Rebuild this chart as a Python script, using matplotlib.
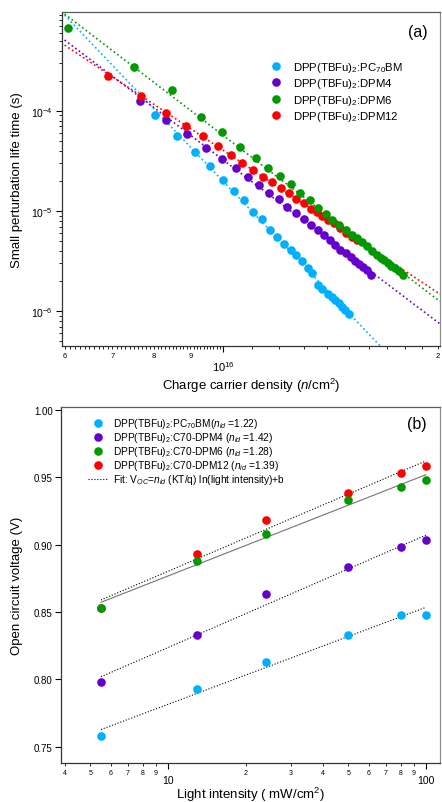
import numpy as np
import matplotlib
matplotlib.use("Agg")
import matplotlib.pyplot as plt
from matplotlib.lines import Line2D
from matplotlib.ticker import FixedLocator, FuncFormatter, NullFormatter

plt.rcParams['font.family'] = ['Liberation Sans', 'DejaVu Sans']
plt.rcParams['mathtext.fontset'] = 'custom'
plt.rcParams['mathtext.rm'] = 'Liberation Sans'
plt.rcParams['mathtext.it'] = 'Liberation Sans:italic'
plt.rcParams['mathtext.bf'] = 'Liberation Sans:bold'

C_BLUE = '#00b0ff'
C_PURPLE = '#6600cc'
C_GREEN = '#009a00'
C_RED = '#ff0000'

# ---- panel (a): lifetime vs charge density (n in 1e16 cm^-2, tau in s)
n_pc70 = [0.803, 0.863, 0.913, 0.958, 1.000, 1.035, 1.071, 1.103, 1.134, 1.164,
          1.190, 1.216, 1.244, 1.266, 1.291, 1.315, 1.335, 1.361, 1.379, 1.402,
          1.420, 1.437, 1.453, 1.468, 1.484, 1.503]
tau_pc70 = [9.06e-5, 5.63e-5, 3.92e-5, 2.83e-5, 2.02e-5, 1.59e-5, 1.28e-5, 9.89e-6,
            8.36e-6, 6.54e-6, 5.53e-6, 4.71e-6, 4.05e-6, 3.61e-6, 3.16e-6, 2.70e-6,
            2.42e-6, 1.81e-6, 1.67e-6, 1.50e-6, 1.39e-6, 1.29e-6, 1.20e-6, 1.11e-6,
            1.03e-6, 9.42e-7]

n_dpm4 = [0.766, 0.833, 0.892, 0.948, 0.998, 1.043, 1.085, 1.124, 1.162, 1.198,
          1.231, 1.265, 1.298, 1.329, 1.358, 1.387, 1.413, 1.437, 1.461, 1.487,
          1.510, 1.532, 1.552, 1.571, 1.590, 1.612]
tau_dpm4 = [1.25e-4, 8.08e-5, 5.89e-5, 4.30e-5, 3.34e-5, 2.69e-5, 2.18e-5, 1.83e-5,
            1.53e-5, 1.31e-5, 1.10e-5, 9.55e-6, 8.30e-6, 7.33e-6, 6.49e-6, 5.72e-6,
            5.10e-6, 4.62e-6, 4.13e-6, 3.77e-6, 3.44e-6, 3.16e-6, 2.95e-6, 2.75e-6,
            2.57e-6, 2.29e-6]

n_dpm12 = [0.691, 0.768, 0.833, 0.889, 0.937, 0.983, 1.026, 1.064, 1.102, 1.139,
           1.172, 1.205, 1.237, 1.266, 1.298, 1.327, 1.353, 1.379, 1.405, 1.431,
           1.458, 1.488, 1.519, 1.541]
tau_dpm12 = [2.25e-4, 1.40e-4, 9.62e-5, 7.13e-5, 5.57e-5, 4.44e-5, 3.61e-5, 3.04e-5,
             2.58e-5, 2.21e-5, 1.95e-5, 1.70e-5, 1.50e-5, 1.33e-5, 1.19e-5, 1.06e-5,
             9.68e-6, 8.83e-6, 8.22e-6, 7.54e-6, 6.80e-6, 6.06e-6, 5.53e-6, 5.16e-6]

n_dpm6 = [0.607, 0.751, 0.849, 0.932, 0.998, 1.056, 1.111, 1.156, 1.203, 1.245,
          1.283, 1.324, 1.357, 1.393, 1.422, 1.455, 1.487, 1.517, 1.542, 1.569,
          1.594, 1.620, 1.642, 1.663, 1.682, 1.702, 1.723, 1.743, 1.766, 1.791]
tau_dpm6 = [6.74e-4, 2.73e-4, 1.61e-4, 8.65e-5, 6.13e-5, 4.34e-5, 3.37e-5, 2.72e-5,
            2.23e-5, 1.88e-5, 1.50e-5, 1.30e-5, 1.08e-5, 9.44e-6, 8.22e-6, 7.33e-6,
            6.54e-6, 5.83e-6, 5.40e-6, 4.90e-6, 4.47e-6, 3.98e-6, 3.68e-6, 3.41e-6,
            3.21e-6, 3.04e-6, 2.86e-6, 2.69e-6, 2.51e-6, 2.32e-6]

labels_a = ['DPP(TBFu)$_2$:PC$_{70}$BM', 'DPP(TBFu)$_2$:DPM4',
            'DPP(TBFu)$_2$:DPM6', 'DPP(TBFu)$_2$:DPM12']

# ---- panel (b): Voc vs light intensity
intensity = [5.5, 13, 24, 50, 80, 100]
voc_pc70 = [0.758, 0.793, 0.813, 0.833, 0.848, 0.848]
voc_dpm4 = [0.798, 0.833, 0.863, 0.883, 0.898, 0.903]
voc_dpm6 = [0.853, 0.888, 0.908, 0.933, 0.943, 0.948]
voc_dpm12 = [0.853, 0.893, 0.918, 0.938, 0.953, 0.958]
labels_b = ['DPP(TBFu)$_2$:PC$_{70}$BM($n_{id}$ =1.22)',
            'DPP(TBFu)$_2$:C70-DPM4 ($n_{id}$ =1.42)',
            'DPP(TBFu)$_2$:C70-DPM6 ($n_{id}$ =1.28)',
            'DPP(TBFu)$_2$:C70-DPM12 ($n_{id}$ =1.39)']
fit_label = 'Fit: V$_{OC}$=$n_{id}$ (KT/q) ln(light intensity)+b'

fig = plt.figure(figsize=(4.42, 8.03), dpi=100)
ax1 = fig.add_axes([0.1403, 0.5679, 0.8552, 0.4159])
ax2 = fig.add_axes([0.138, 0.0486, 0.8575, 0.4433])

ms = 6.2

# panel (a)
series_a = [(n_pc70, tau_pc70, C_BLUE), (n_dpm4, tau_dpm4, C_PURPLE),
            (n_dpm6, tau_dpm6, C_GREEN), (n_dpm12, tau_dpm12, C_RED)]
n_line = np.array([0.6, 2.05])
for n, tau, c in series_a:
    ln = np.log10(np.array(n))
    lt = np.log10(np.array(tau))
    k, b = np.polyfit(ln, lt, 1)
    ax1.plot(n_line * 1e16, 10 ** (k * np.log10(n_line) + b), ':', color=c, lw=1.2, zorder=2)
for n, tau, c in [series_a[0], series_a[1], series_a[3], series_a[2]]:
    ax1.plot(np.array(n) * 1e16, tau, 'o', color=c, ms=ms, mec='none', zorder=3)

ax1.set_xscale('log')
ax1.set_yscale('log')
ax1.set_xlim(5.95e15, 2.015e16)
ax1.set_ylim(4.5e-7, 9.7e-4)

ax1.xaxis.set_major_locator(FixedLocator([1e16]))
ax1.xaxis.set_major_formatter(FuncFormatter(lambda v, p: '$10^{16}$'))
minor_x = list(np.arange(6.0, 10.0, 0.1) * 1e15) + list(np.arange(11, 21, 1) * 1e15)
ax1.xaxis.set_minor_locator(FixedLocator(minor_x))
lab_a = {6: '6', 7: '7', 8: '8', 9: '9', 20: '2'}
ax1.xaxis.set_minor_formatter(FuncFormatter(
    lambda v, p: lab_a.get(int(round(v / 1e15)), '') if abs(v / 1e15 - round(v / 1e15)) < 0.01 else ''))
ax1.tick_params(axis='x', which='major', direction='out', length=4.5, width=0.8,
                labelsize=8, pad=5)
ax1.tick_params(axis='x', which='minor', direction='out', length=2, width=0.6,
                labelsize=5.5, pad=2)

ax1.yaxis.set_major_locator(FixedLocator([1e-6, 1e-5, 1e-4]))
ax1.yaxis.set_major_formatter(FuncFormatter(lambda v, p: '$10^{%d}$' % int(round(np.log10(v)))))
minor_y = [m * 10.0 ** e for e in (-7, -6, -5, -4) for m in range(2, 10)]
ax1.yaxis.set_minor_locator(FixedLocator(minor_y))
ax1.yaxis.set_minor_formatter(NullFormatter())
ax1.tick_params(axis='y', which='major', direction='out', length=4.5, width=0.8,
                labelsize=7.5, pad=2)
ax1.tick_params(axis='y', which='minor', direction='out', length=2.5, width=0.6)

ax1.set_xlabel('Charge carrier density ($n$/cm$^2$)', fontsize=9.5)
ax1.xaxis.set_label_coords(0.5, -0.088)
ax1.set_ylabel('Small perturbation life time (s)', fontsize=9.5)
ax1.yaxis.set_label_coords(-0.103, 0.5)
ax1.text(0.94, 0.943, '(a)', transform=ax1.transAxes, fontsize=11.5, ha='center', va='center')

h_a = [Line2D([], [], ls='none', marker='o', ms=ms, mec='none', color=c)
       for c in (C_BLUE, C_PURPLE, C_GREEN, C_RED)]
ax1.legend(h_a, labels_a, loc='upper left', bbox_to_anchor=(0.552, 0.855), frameon=False,
           fontsize=8.2, handlelength=1.0, handletextpad=1.0, labelspacing=0.18,
           borderpad=0, borderaxespad=0)

# panel (b)
x_b = np.array(intensity, dtype=float)
x_fit = np.array([x_b.min(), x_b.max()])
series_b = [(voc_pc70, C_BLUE, ':', 'k'), (voc_dpm4, C_PURPLE, ':', 'k'),
            (voc_dpm6, C_GREEN, '-', '0.45'), (voc_dpm12, C_RED, ':', 'k')]
for v, c, ls, lc in series_b:
    k, b = np.polyfit(np.log(x_b), np.array(v), 1)
    ax2.plot(x_fit, k * np.log(x_fit) + b, ls=ls, color=lc, lw=0.8, zorder=2)
for v, c, ls, lc in [series_b[0], series_b[1], series_b[3], series_b[2]]:
    ax2.plot(x_b, v, 'o', color=c, ms=ms, mec='none', zorder=3)

ax2.set_xscale('log')
ax2.set_xlim(3.85, 113.5)
ax2.set_ylim(0.738, 1.002)
ax2.xaxis.set_major_locator(FixedLocator([10, 100]))
ax2.xaxis.set_major_formatter(FuncFormatter(lambda v, p: '%d' % round(v)))
minor_b = [4, 5, 6, 7, 8, 9, 20, 30, 40, 50, 60, 70, 80, 90]
ax2.xaxis.set_minor_locator(FixedLocator(minor_b))
ax2.xaxis.set_minor_formatter(FuncFormatter(
    lambda v, p: str(int(round(v))) if v < 10 else str(int(round(v / 10)))))
ax2.tick_params(axis='x', which='major', direction='out', length=4, width=0.8,
                labelsize=7.5, pad=5)
ax2.tick_params(axis='x', which='minor', direction='out', length=2, width=0.6,
                labelsize=5, pad=2.5)
ax2.set_yticks([0.75, 0.80, 0.85, 0.90, 0.95, 1.00])
ax2.yaxis.set_major_formatter(FuncFormatter(lambda v, p: '%.2f' % v))
ax2.tick_params(axis='y', which='major', direction='out', length=4, width=0.8,
                labelsize=7, pad=2)

ax2.set_xlabel('Light intensity ( mW/cm$^2$)', fontsize=9.5)
ax2.xaxis.set_label_coords(0.5, -0.061)
ax2.set_ylabel('Open circuit voltage (V)', fontsize=9.5)
ax2.yaxis.set_label_coords(-0.1, 0.5)
ax2.text(0.94, 0.955, '(b)', transform=ax2.transAxes, fontsize=11.5, ha='center', va='center')

h_b = [Line2D([], [], ls='none', marker='o', ms=ms, mec='none', color=c)
       for c in (C_BLUE, C_PURPLE, C_GREEN, C_RED)]
h_b.append(Line2D([], [], ls=':', color='k', lw=0.8))
ax2.legend(h_b, labels_b + [fit_label], loc='upper left', bbox_to_anchor=(0.071, 0.974),
           frameon=False, fontsize=7.3, handlelength=2.0, handletextpad=0.5,
           labelspacing=0.0, borderpad=0, borderaxespad=0)

for ax in (ax1, ax2):
    for s in ax.spines.values():
        s.set_linewidth(0.9)
        s.set_color('0.2')
    ax.spines['right'].set_color('0.55')
    ax.spines['top'].set_color('0.35')

fig.savefig('out.png', dpi=100)
